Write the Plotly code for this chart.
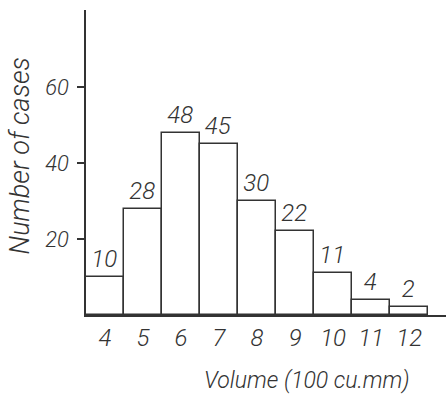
import plotly.graph_objects as go

volumes = [4, 5, 6, 7, 8, 9, 10, 11, 12]
cases = [10, 28, 48, 45, 30, 22, 11, 4, 2]
y_ticks = [20, 40, 60]
x_title = "Volume (100 cu.mm)"
y_title = "Number of cases"

FONT = "Roboto, DejaVu Sans, sans-serif"
INK = "#333333"
W = 300

def f(size):
    return dict(family=FONT, size=size, color=INK, style="italic", weight=W)

fig = go.Figure(go.Bar(
    x=volumes, y=cases, width=1,
    marker=dict(color="white", line=dict(color=INK, width=1.5)),
    text=[str(c) for c in cases], textposition="outside",
    textfont=f(24),
    cliponaxis=False,
))

fig.update_layout(
    width=446, height=394,
    margin=dict(l=86, r=0, t=10, b=79),
    paper_bgcolor="white", plot_bgcolor="white",
    bargap=0, showlegend=False,
    font=f(22),
    xaxis=dict(
        range=[3.5, 12.97], tickvals=volumes, ticktext=[str(v) for v in volumes],
        showgrid=False, zeroline=False, showline=True, linecolor=INK, linewidth=1.5,
        ticks="", tickfont=f(24), fixedrange=True,
    ),
    yaxis=dict(
        range=[0, 80.3], tickvals=y_ticks, ticktext=[str(v) for v in y_ticks],
        showgrid=False, zeroline=False, showline=True, linecolor=INK, linewidth=1.5,
        ticks="outside", ticklen=7, tickwidth=1.5, tickcolor=INK,
        tickfont=f(22), ticklabelstandoff=4, fixedrange=True,
    ),
    annotations=[
        dict(text=y_title, xref="paper", yref="paper", x=-84/360, y=0.52,
             xanchor="left", yanchor="middle", textangle=-90, showarrow=False,
             font=f(27)),
        dict(text=x_title, xref="paper", yref="paper", x=(307-86)/360, y=-(380-315)/305,
             xanchor="center", yanchor="middle", showarrow=False,
             font=f(23)),
    ],
)

fig.write_html("out.html")
